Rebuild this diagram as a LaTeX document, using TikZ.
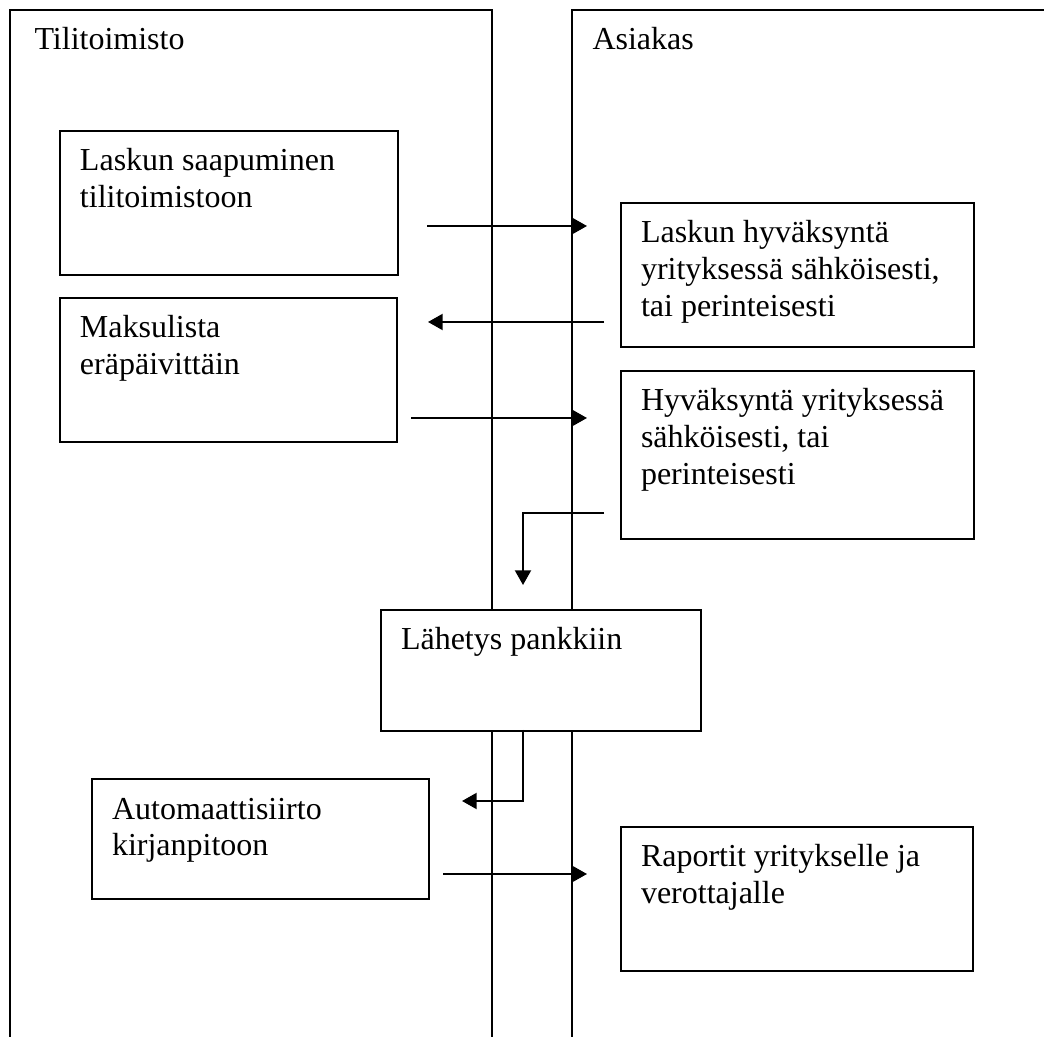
\documentclass[tikz,border=0pt]{standalone}
\usepackage{fontspec}
\setmainfont{Liberation Serif}
\usetikzlibrary{arrows.meta}

\tikzset{
  lane/.style={line width=.5pt},
  box/.style={draw,line width=.75pt,fill=white,anchor=north west,align=flush left,
    inner xsep=7.5pt,inner ysep=0pt,text height=15pt},
  flow/.style={line width=.75pt,-{Triangle[length=5.5pt,width=6pt]}}
}

\begin{document}
\begin{tikzpicture}[x=.375pt,y=-.375pt,font=\fontsize{12pt}{13.8pt}\selectfont]
\useasboundingbox (0,0) rectangle (1044,1037);
% swimlanes
\draw[lane] (10,1037) |- (492,10) -- (492,1037);
\draw[lane] (1044,10) -| (572,1037);
\node[anchor=base west,inner sep=0pt] (tili) at (34,50) {Tilitoimisto};
\node[anchor=base west,inner sep=0pt] (asia) at (592,50) {Asiakas};
% steps
\node[box,text width=111.75pt,text depth=39pt] (saap) at (59,130) {Laskun saapuminen\\tilitoimistoon};
\node[box,text width=117.4pt,text depth=39pt] (hyv1) at (620,202) {Laskun hyväksyntä\\yrityksessä sähköisesti,\\tai perinteisesti};
\node[box,text width=111.4pt,text depth=39pt] (maks) at (59,297) {Maksulista\\eräpäivittäin};
\node[box,text width=117.4pt,text depth=48pt] (hyv2) at (620,370) {Hyväksyntä yrityksessä\\sähköisesti, tai\\perinteisesti};
\node[box,text width=105pt,text depth=30.4pt] (lahe) at (380,609) {Lähetys pankkiin};
\node[box,text width=111.4pt,text depth=30pt] (auto) at (91,778) {Automaattisiirto\\kirjanpitoon};
\node[box,text width=117pt,text depth=39pt] (rap) at (620,826) {Raportit yritykselle ja\\verottajalle};
% arrow ends
\coordinate (s1) at (427,226); \coordinate (e1) at (587,226);
\coordinate (s2) at (604,322); \coordinate (e2) at (428,322);
\coordinate (s3) at (411,418); \coordinate (e3) at (587,418);
\coordinate (s4) at (604,513); \coordinate (e4) at (523,585);
\coordinate (s5) at (523,730); \coordinate (e5) at (462,801);
\coordinate (s6) at (443,874); \coordinate (e6) at (587,874);
\draw[flow] (s1) -- (e1);
\draw[flow] (s2) -- (e2);
\draw[flow] (s3) -- (e3);
\draw[flow] (s4) -| (e4);
\draw[flow] (s5) |- (e5);
\draw[flow] (s6) -- (e6);
\end{tikzpicture}
\end{document}
